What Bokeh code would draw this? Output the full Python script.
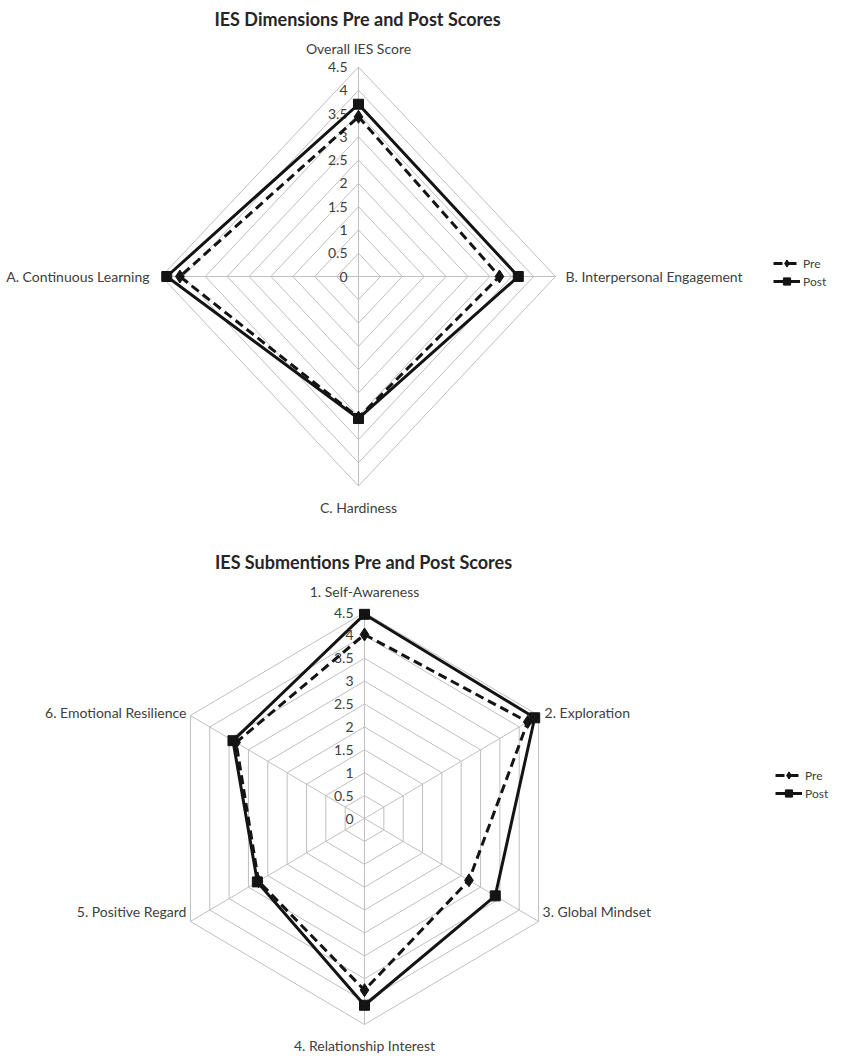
import numpy as np
from bokeh.plotting import figure
from bokeh.models import Legend, LegendItem, Label, Range1d
from bokeh.layouts import column
from bokeh.embed import file_html
from bokeh.resources import INLINE
from bokeh.core.properties import value

# ---------------- data ----------------
dim_title = "IES Dimensions Pre and Post Scores"
dim_categories = ["Overall IES Score", "B. Interpersonal Engagement", "C. Hardiness", "A. Continuous Learning"]
dim_pre = [3.43, 3.22, 3.03, 4.08]
dim_post = [3.70, 3.65, 3.05, 4.38]

sub_title = "IES Submentions Pre and Post Scores"
sub_categories = ["1. Self-Awareness", "2. Exploration", "3. Global Mindset",
                  "4. Relationship Interest", "5. Positive Regard", "6. Emotional Resilience"]
sub_pre = [4.02, 4.22, 2.70, 3.75, 2.74, 3.32]
sub_post = [4.46, 4.40, 3.38, 4.08, 2.77, 3.40]

tick_values = [0, 0.5, 1, 1.5, 2, 2.5, 3, 3.5, 4, 4.5]
tick_labels = ["0", "0.5", "1", "1.5", "2", "2.5", "3", "3.5", "4", "4.5"]
series_names = ["Pre", "Post"]

FONT = "Lato"
GRID = "#BFBFBF"
INK = "#141414"
TXT = "#404040"
W = 867


def polar(vals, n):
    ang = np.arange(n) * 2 * np.pi / n
    v = np.asarray(vals, dtype=float)
    return v * np.sin(ang), v * np.cos(ang)


def radar(title, cats, pre, post, height, cx, cy, ux, uy, lab_off, leg_xy, title_y):
    n = len(cats)
    p = figure(width=W, height=height, output_backend="svg", toolbar_location=None,
               x_range=Range1d(-cx / ux, (W - cx) / ux),
               y_range=Range1d(-(height - cy) / uy, cy / uy),
               min_border=0, outline_line_color=None)
    p.axis.visible = False
    p.grid.visible = False
    p.background_fill_color = "white"

    # rings
    xs, ys = [], []
    for t in tick_values[1:]:
        x, y = polar([t] * n, n)
        xs.append(list(x) + [x[0]])
        ys.append(list(y) + [y[0]])
    p.multi_line(xs, ys, line_color=GRID, line_width=1)
    # spokes
    ox, oy = polar([tick_values[-1]] * n, n)
    p.segment(x0=[0] * n, y0=[0] * n, x1=list(ox), y1=list(oy), line_color=GRID, line_width=1)

    # tick labels
    p.text(x=[0] * len(tick_values), y=tick_values, text=tick_labels, x_offset=-11,
           text_align="right", text_baseline="middle", text_font=value(FONT),
           text_font_size="14px", text_color=TXT)

    # category labels
    for i, c in enumerate(cats):
        dx, dy, al = lab_off[i]
        p.text(x=[ox[i]], y=[oy[i]], text=[c], x_offset=dx, y_offset=dy, text_align=al,
               text_baseline="middle", text_font=value(FONT), text_font_size="14px",
               text_color=TXT)

    # series
    px, py = polar(pre, n)
    qx, qy = polar(post, n)
    l1 = p.line(list(px) + [px[0]], list(py) + [py[0]], line_color=INK, line_width=3, line_dash="9 5")
    m1 = p.scatter(list(px), list(py), marker="diamond", size=13, fill_color=INK, line_color=INK)
    l2 = p.line(list(qx) + [qx[0]], list(qy) + [qy[0]], line_color=INK, line_width=3)
    m2 = p.scatter(list(qx), list(qy), marker="square", size=10, fill_color=INK, line_color=INK)

    leg = Legend(items=[LegendItem(label=series_names[0], renderers=[l1, m1]),
                        LegendItem(label=series_names[1], renderers=[l2, m2])],
                 location=leg_xy, orientation="vertical", padding=0, margin=0, spacing=0,
                 glyph_width=27, glyph_height=18, label_height=18, label_standoff=3,
                 label_text_font=FONT, label_text_font_size="12px", label_text_color=TXT,
                 border_line_color=None, background_fill_alpha=0)
    p.add_layout(leg)

    p.add_layout(Label(x=cx - 1, y=height - title_y, x_units="screen", y_units="screen",
                       text=title, text_align="center", text_baseline="middle",
                       text_font=FONT, text_font_style="bold", text_font_size="18px",
                       text_color="#262626"))
    return p


top = radar(dim_title, dim_categories, dim_pre, dim_post, 543, 358, 276, 197 / 4.5, 209.5 / 4.5,
            [(0, -19, "center"), (10, 0, "left"), (0, 21, "center"), (-12, 0, "right")],
            (773, 253), 18)
bot = radar(sub_title, sub_categories, sub_pre, sub_post, 520, 364, 275, 201 / 4.5, 206 / 4.5,
            [(0, -21, "center"), (6, -3, "left"), (4, -10, "left"), (0, 21, "center"),
             (-4, -10, "right"), (-4, -3, "right")],
            (775, 261), 18)

layout = column(top, bot, spacing=0)
open("out.html", "w").write(file_html(layout, INLINE))
